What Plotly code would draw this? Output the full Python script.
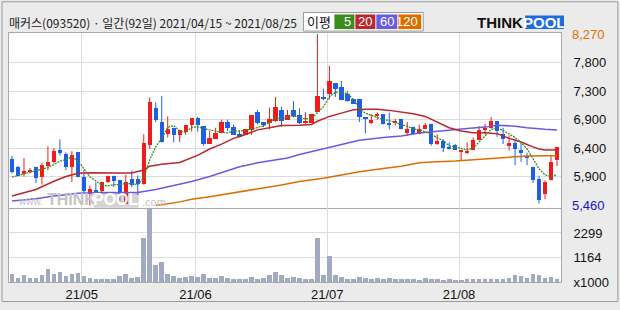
import plotly.graph_objects as go
import pandas as pd

# ---------------- data ----------------
holidays = ["2021-05-05", "2021-05-19", "2021-08-16"]
dates = [d for d in pd.bdate_range("2021-04-15", "2021-08-25")
         if d.strftime("%Y-%m-%d") not in holidays]

open_ = [6227, 6094, 5971, 6020, 6094, 5923, 6110, 6174, 6371, 6302,
         6083, 6334, 5933, 5650, 5720, 5693, 5837, 5949, 5869, 5490,
         5885, 5901, 5810, 6451, 7065, 6830, 6638, 6734, 6617, 6665,
         6788, 6894, 6756, 6467, 6547, 6643, 6825, 6745, 6627, 6617,
         6697, 7001, 6830, 6814, 6852, 7028, 6868, 7028, 6937, 6814,
         6814, 7001, 7247, 7289, 7466, 7412, 7284, 7204, 7199, 6910,
         6814, 6932, 6958, 6814, 6814, 6878, 6654, 6750, 6627, 6708,
         6798, 6467, 6510, 6414, 6456, 6350, 6334, 6371, 6531, 6697,
         6724, 6841, 6638, 6451, 6478, 6366, 6270, 6094, 5901, 5640,
         5880, 6200]
high = [6270, 6110, 6238, 6072, 6094, 6163, 6430, 6403, 6542, 6329,
        6350, 6334, 6040, 5784, 5837, 5837, 5949, 5949, 5880, 5960,
        6029, 5949, 6627, 7231, 7151, 7257, 6921, 6734, 6702, 6777,
        6894, 6910, 6756, 6681, 6734, 6868, 6868, 6788, 6691, 6708,
        6937, 7028, 6830, 7065, 7241, 7081, 7028, 7172, 7055, 6990,
        6958, 8270, 7375, 7749, 7466, 7503, 7332, 7204, 7199, 6910,
        6958, 6985, 6958, 6985, 6878, 6878, 6830, 6750, 6788, 6814,
        6798, 6627, 6547, 6494, 6467, 6362, 6494, 6574, 6761, 6798,
        6910, 6841, 6734, 6611, 6547, 6494, 6323, 6094, 5949, 5869,
        6280, 6414]
low = [5987, 5939, 5933, 5987, 5827, 5800, 6040, 6147, 6280, 6040,
       5843, 5923, 5666, 5460, 5666, 5640, 5827, 5763, 5517, 5480,
       5763, 5629, 5800, 6387, 6830, 6494, 6574, 6494, 6499, 6617,
       6670, 6670, 6441, 6467, 6547, 6643, 6681, 6617, 6574, 6617,
       6617, 6788, 6745, 6708, 6830, 6750, 6868, 6905, 6798, 6798,
       6814, 7001, 7188, 7204, 7241, 7188, 7161, 7124, 6830, 6643,
       6798, 6868, 6788, 6708, 6772, 6708, 6601, 6627, 6627, 6708,
       6441, 6451, 6334, 6377, 6371, 6200, 6307, 6371, 6531, 6627,
       6724, 6585, 6467, 6360, 6120, 6174, 6120, 5827, 5490, 5560,
       5869, 6104]
close = [6003, 5950, 6029, 6035, 5907, 6126, 6174, 6350, 6318, 6083,
         6286, 5923, 5693, 5725, 5682, 5837, 5949, 5853, 5650, 5837,
         5800, 5805, 6478, 7151, 6868, 6494, 6718, 6617, 6702, 6777,
         6894, 6777, 6467, 6574, 6654, 6830, 6724, 6617, 6585, 6708,
         6937, 6814, 6777, 6884, 7081, 6852, 6937, 6921, 6814, 6841,
         6958, 7257, 7215, 7503, 7375, 7188, 7172, 7124, 6916, 6894,
         6862, 6948, 6798, 6788, 6830, 6718, 6718, 6627, 6708, 6772,
         6467, 6521, 6403, 6387, 6371, 6360, 6350, 6537, 6697, 6734,
         6841, 6681, 6547, 6483, 6387, 6323, 6254, 5869, 5544, 5837,
         6174, 6414]
volume_k = [370, 185, 324, 185, 185, 324, 602, 370, 463, 278,
            370, 417, 278, 185, 139, 139, 139, 139, 278, 370,
            185, 232, 2084, 3420, 803, 926, 370, 278, 185, 232,
            278, 232, 370, 185, 185, 278, 185, 139, 139, 139,
            232, 139, 185, 324, 463, 340, 185, 232, 185, 139,
            139, 2084, 324, 1250, 324, 232, 139, 139, 232, 185,
            139, 185, 139, 185, 139, 139, 139, 139, 120, 185,
            139, 139, 93, 139, 93, 93, 139, 139, 139, 139,
            139, 139, 139, 185, 324, 278, 185, 370, 324, 185,
            232, 139]

ma5_i = [0, 2, 4, 6, 7, 8, 9, 10, 11, 12, 13, 14, 15, 16, 17, 18, 19, 20, 21, 22,
         23, 24, 25, 26, 27, 28, 29, 30, 31, 32, 33, 34, 35, 36, 37, 38, 39, 40,
         41, 42, 43, 44, 45, 46, 47, 48, 49, 50, 51, 52, 53, 54, 55, 56, 57, 58,
         59, 60, 61, 62, 63, 64, 65, 66, 67, 68, 69, 70, 71, 72, 73, 74, 75, 76,
         77, 78, 79, 80, 81, 82, 83, 84, 85, 86, 87, 88, 89, 90, 91]
ma5_v = [5925, 5975, 6030, 6080, 6130, 6185, 6215, 6250, 6195, 6060, 5930, 5860,
         5790, 5780, 5800, 5800, 5820, 5815, 5800, 5910, 6210, 6420, 6560, 6740,
         6770, 6680, 6660, 6740, 6750, 6720, 6700, 6670, 6660, 6650, 6680, 6680,
         6690, 6710, 6740, 6765, 6820, 6900, 6885, 6905, 6930, 6900, 6884, 6884,
         6990, 7081, 7241, 7321, 7310, 7295, 7199, 7055, 6974, 6937, 6905, 6868,
         6852, 6814, 6788, 6761, 6718, 6702, 6670, 6627, 6574, 6521, 6441, 6414,
         6387, 6371, 6403, 6494, 6601, 6708, 6734, 6691, 6627, 6574, 6494, 6387,
         6227, 6060, 5960, 5935, 5965]
ma20_i = [0, 4, 7, 9, 11, 13, 17, 20, 22, 23, 25, 28, 31, 33, 35, 37, 39, 41, 43,
          45, 48, 50, 51, 53, 55, 57, 59, 61, 63, 65, 67, 69, 71, 73, 75, 77, 79,
          81, 83, 85, 87, 88, 89, 91]
ma20_v = [5613, 5720, 5855, 5933, 5987, 5997, 5990, 5990, 6040, 6104, 6136, 6165,
          6280, 6385, 6465, 6560, 6625, 6700, 6734, 6770, 6777, 6788, 6841, 6921,
          6975, 7030, 7039, 7040, 7020, 6995, 6965, 6921, 6830, 6734, 6681, 6654,
          6654, 6638, 6560, 6500, 6420, 6387, 6371, 6371]
ma60_i = [0, 4, 7, 11, 14, 18, 21, 24, 27, 30, 33, 36, 38, 41, 44, 46, 48, 52, 55,
          58, 62, 65, 68, 70, 73, 76, 79, 81, 84, 86, 89, 91]
ma60_v = [5533, 5570, 5613, 5660, 5666, 5666, 5670, 5720, 5784, 5853, 5933, 6029,
          6094, 6158, 6211, 6238, 6296, 6387, 6467, 6531, 6574, 6601, 6650, 6670,
          6697, 6724, 6745, 6777, 6761, 6734, 6708, 6697]
ma120_i = [24, 25, 28, 30, 33, 36, 39, 41, 44, 45, 48, 52, 55, 58, 62, 65, 68, 70,
           74, 77, 80, 84, 86, 89, 91]
ma120_v = [5462, 5469, 5517, 5560, 5602, 5650, 5693, 5736, 5773, 5795, 5853, 5907,
           5960, 6013, 6067, 6104, 6158, 6174, 6190, 6211, 6238, 6254, 6270, 6275,
           6275]

price_max, price_min = 8270, 5460
vol_ticks = [1164, 2299]
month_labels = ["21/05", "21/06", "21/07", "21/08"]
title_text = "매커스(093520) · 일간(92일) 2021/04/15 ~ 2021/08/25"

# ---------------- styles ----------------
RED = "#f01c1c"
BLUE = "#1f5fe6"
VOLC = "#a2aac2"
C5, C20, C60, C120 = "#3c8c1e", "#b8282c", "#6a5ae0", "#dc6e00"
GRID = "#dcdcdc"
FRAME = "#a8a8a8"
FONT = "Liberation Sans"

idx = list(range(len(dates)))
month_first = []
for k in range(1, len(dates)):
    if dates[k].month != dates[k - 1].month:
        month_first.append(k - 0.35)

fig = go.Figure()

# wicks
for up, col in ((True, RED), (False, BLUE)):
    wx, wy = [], []
    for i in idx:
        if (close[i] >= open_[i]) == up:
            wx += [i, i, None]
            wy += [low[i], high[i], None]
    fig.add_trace(go.Scatter(x=wx, y=wy, mode="lines", line=dict(color=col, width=1),
                             hoverinfo="skip", showlegend=False, xaxis="x", yaxis="y"))

# bodies
for up, col in ((True, RED), (False, BLUE)):
    bx, bh, bb = [], [], []
    for i in idx:
        if (close[i] >= open_[i]) == up:
            bx.append(i)
            bh.append(max(abs(close[i] - open_[i]), 16))
            bb.append(min(open_[i], close[i]))
    fig.add_trace(go.Bar(x=bx, y=bh, base=bb, width=0.72, marker=dict(color=col, line=dict(width=0)),
                         showlegend=False, xaxis="x", yaxis="y"))

# moving averages
fig.add_trace(go.Scatter(x=ma120_i, y=ma120_v, mode="lines", line=dict(color=C120, width=1.5),
                         showlegend=False, xaxis="x", yaxis="y"))
fig.add_trace(go.Scatter(x=ma60_i, y=ma60_v, mode="lines", line=dict(color=C60, width=1.5),
                         showlegend=False, xaxis="x", yaxis="y"))
fig.add_trace(go.Scatter(x=ma20_i, y=ma20_v, mode="lines", line=dict(color=C20, width=1.5),
                         showlegend=False, xaxis="x", yaxis="y"))
fig.add_trace(go.Scatter(x=ma5_i, y=ma5_v, mode="lines", line=dict(color=C5, width=1.3, dash="2px,1px"),
                         showlegend=False, xaxis="x", yaxis="y"))

# volume
fig.add_trace(go.Bar(x=idx, y=volume_k, width=0.78, marker=dict(color=VOLC, line=dict(width=0)),
                     showlegend=False, xaxis="x2", yaxis="y2"))

# ---------------- layout ----------------
W, H = 620, 310
L, R, T, B = 8, 59, 33, 22
PW, PH = W - L - R, H - T - B


def px(x):
    return (x - L) / PW


def py(y):
    return (H - B - y) / PH


split = py(212)
grid_vals = [price_min + k * (price_max - price_min) / 6 for k in range(1, 6)]
grid_text = [f"{int(round(v, -2)):,}" for v in grid_vals]

axis_common = dict(showgrid=True, gridcolor=GRID, gridwidth=1, zeroline=False,
                   showline=True, linecolor=FRAME, linewidth=1, ticks="")

fig.update_layout(
    width=W, height=H,
    margin=dict(l=L, r=R, t=T, b=B, pad=0),
    paper_bgcolor="#ebebeb", plot_bgcolor="white",
    barmode="overlay", bargap=0,
    font=dict(family=FONT, size=13, color="#111"),
    xaxis=dict(domain=[0, 1], anchor="y", range=[-0.5, 91.67], tickvals=month_first,
               showticklabels=False, mirror=True, **axis_common),
    xaxis2=dict(domain=[0, 1], anchor="y2", range=[-0.5, 91.67], matches="x",
                tickvals=month_first, ticktext=month_labels, showticklabels=True, mirror=False,
                tickfont=dict(size=13, color="#111"), **axis_common),
    yaxis=dict(domain=[split, 1], anchor="x", side="right", range=[5420, 8291],
               tickvals=grid_vals, ticktext=grid_text, ticklabelstandoff=9, mirror=True,
               tickfont=dict(size=13, color="#111"), **axis_common),
    yaxis2=dict(domain=[0, split], anchor="x2", side="right", range=[0, 3480],
                tickvals=[0] + vol_ticks, ticktext=["x1000"] + [str(v) for v in vol_ticks],
                ticklabelstandoff=9, mirror=True, tickfont=dict(size=13, color="#111"), **axis_common),
)

ann = []
# extreme labels
ann.append(dict(xref="paper", yref="y", x=1, y=price_max, xanchor="left", yanchor="middle",
                xshift=9, text=f"{price_max:,}", showarrow=False,
                font=dict(family=FONT, size=13, color="#e07000")))
ann.append(dict(xref="paper", yref="y", x=1, y=price_min, xanchor="left", yanchor="middle",
                xshift=9, text=f"{price_min:,}", showarrow=False,
                font=dict(family=FONT, size=13, color="#1414d2")))
# title
ann.append(dict(xref="paper", yref="paper", x=px(6), y=py(22), xanchor="left", yanchor="middle",
                text=title_text, showarrow=False,
                font=dict(family="Noto Sans CJK KR", size=12, color="#222")))
# MA legend box
shapes = []
shapes.append(dict(type="rect", xref="paper", yref="paper", x0=px(303), x1=px(423), y0=py(31), y1=py(12),
                   fillcolor="white", line=dict(color="#9a9a9a", width=1)))
ann.append(dict(xref="paper", yref="paper", x=px(319), y=py(21.5), xanchor="center", yanchor="middle",
                text="이평", showarrow=False, font=dict(family="Noto Sans CJK KR", size=13, color="#111")))
boxes = [("5", C5, 334, 354), ("20", C20, 355, 375), ("60", C60, 376, 397), ("120", C120, 398, 421)]
for lab, col, a, b in boxes:
    shapes.append(dict(type="rect", xref="paper", yref="paper", x0=px(a), x1=px(b), y0=py(29), y1=py(14),
                       fillcolor=col, line=dict(width=0)))
    ann.append(dict(xref="paper", yref="paper", x=px(b - 1.5), y=py(21.5), xanchor="right", yanchor="middle",
                    text=lab, showarrow=False, font=dict(family=FONT, size=13, color="white")))
# THINKPOOL logo
ann.append(dict(xref="paper", yref="paper", x=px(525), y=py(22), xanchor="right", yanchor="middle",
                text="<b>THINK</b>", showarrow=False, font=dict(family=FONT, size=15, color="#111")))
shapes.append(dict(type="rect", xref="paper", yref="paper", x0=px(525), x1=px(564), y0=py(29), y1=py(15),
                   fillcolor="#1e6be0", line=dict(width=0)))
ann.append(dict(xref="paper", yref="paper", x=px(544.5), y=py(22), xanchor="center", yanchor="middle",
                text="<b>POOL</b>", showarrow=False, font=dict(family=FONT, size=15, color="white")))
# watermark
ann.append(dict(xref="paper", yref="paper", x=px(44), y=py(206), xanchor="right", yanchor="middle",
                text="www.", showarrow=False, font=dict(family=FONT, size=10, color="#c4c4c4")))
ann.append(dict(xref="paper", yref="paper", x=px(44), y=py(203.5), xanchor="left", yanchor="middle",
                text="<b>THINK</b>", showarrow=False, font=dict(family=FONT, size=16, color="#c4c4c4")))
shapes.append(dict(type="rect", xref="paper", yref="paper", x0=px(93), x1=px(138), y0=py(212), y1=py(195),
                   fillcolor="#d4d4d4", line=dict(width=0), layer="below"))
ann.append(dict(xref="paper", yref="paper", x=px(115.5), y=py(203.5), xanchor="center", yanchor="middle",
                text="<b>POOL</b>", showarrow=False, font=dict(family=FONT, size=16, color="white")))
ann.append(dict(xref="paper", yref="paper", x=px(139), y=py(206), xanchor="left", yanchor="middle",
                text=".com", showarrow=False, font=dict(family=FONT, size=11, color="#c4c4c4")))

# outer frame
shapes.append(dict(type="rect", xref="paper", yref="paper", x0=px(1), x1=px(618), y0=py(308), y1=py(1),
                   fillcolor="rgba(0,0,0,0)", line=dict(color="#9a9a9a", width=1), layer="below"))

fig.update_layout(annotations=ann, shapes=shapes)
fig.write_html("out.html")
